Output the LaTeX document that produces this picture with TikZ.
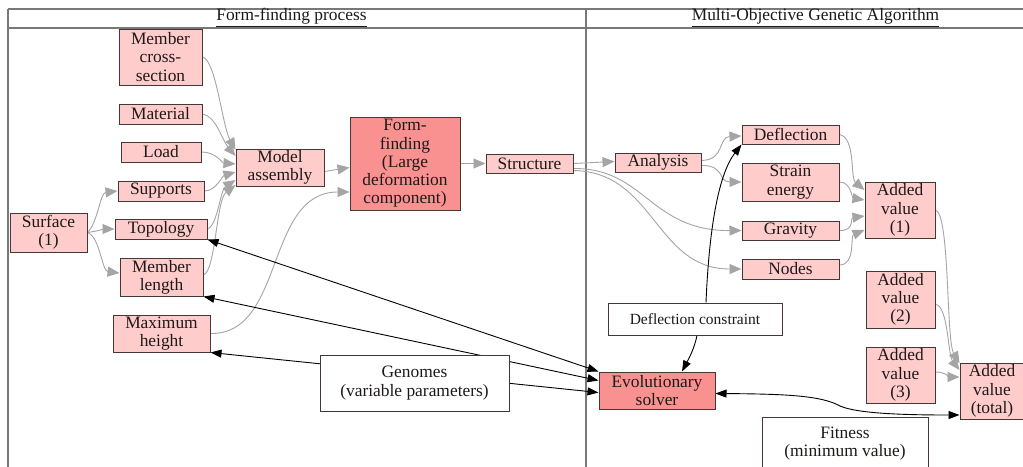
\documentclass[tikz,border=0pt]{standalone}
\usepackage{fontspec}
\setmainfont{Liberation Serif}
\usetikzlibrary{arrows.meta,backgrounds}
\definecolor{pinkfill}{RGB}{255,204,204}
\definecolor{redfill}{RGB}{250,145,145}
\definecolor{boxline}{RGB}{70,55,55}
\definecolor{arrgray}{RGB}{165,165,165}
\definecolor{framegray}{RGB}{120,120,120}
\definecolor{txt}{RGB}{30,25,25}
\tikzset{
 pbox/.style={draw=boxline, line width=1pt, fill=pinkfill, inner sep=0pt, align=center, text=txt, font=\fontsize{17.4}{18.3}\selectfont},
 rbox/.style={pbox, fill=redfill},
 wbox/.style={pbox, fill=white},
 hdr/.style={inner sep=0pt, text=txt, font=\fontsize{17.4}{18.3}\selectfont},
 garr/.style={draw=arrgray, line width=0.9pt, -{Triangle[length=12pt,width=10pt]}},
 barr/.style={draw=black, line width=0.9pt, {Triangle[length=11pt,width=8pt]}-{Triangle[length=11pt,width=8pt]}},
 bsingle/.style={draw=black, line width=0.9pt, -{Triangle[length=11pt,width=8pt]}},
 framel/.style={draw=framegray, line width=1.5pt},
}
\begin{document}
\begin{tikzpicture}[x=1pt,y=-1pt]
\useasboundingbox (0,0) rectangle (1023,466);
\clip (0,0) rectangle (1023,466);

% headers
\node[hdr] (h1) at (291.5,17.5) {\underline{Form-finding process}};
\node[hdr] (h2) at (815.5,17.5) {\underline{Multi-Objective Genetic Algorithm}};

% left side nodes
\node[pbox, minimum width=83pt, minimum height=56pt] (mcs) at (160.5,57) {Member\\cross-\\section};
\node[pbox, minimum width=83pt, minimum height=20pt] (mat) at (160.5,114) {Material};
\node[pbox, minimum width=80pt, minimum height=20pt] (load) at (161,152) {Load};
\node[pbox, minimum width=86pt, minimum height=20pt] (sup) at (161,191) {Supports};
\node[pbox, minimum width=92pt, minimum height=20pt] (topo) at (161,229) {Topology};
\node[pbox, minimum width=77pt, minimum height=39pt] (surf) at (48.5,232.5) {Surface\\(1)};
\node[pbox, minimum width=83pt, minimum height=38pt] (mlen) at (161.5,277) {Member\\length};
\node[pbox, minimum width=97pt, minimum height=37pt] (mh) at (161.5,333.5) {Maximum\\height};
\node[pbox, minimum width=88pt, minimum height=37pt] (ma) at (280,167.5) {Model\\assembly};
\node[rbox, minimum width=110pt, minimum height=93pt] (ff) at (405,163.5) {Form-\\finding\\(Large\\deformation\\component)};
\node[pbox, minimum width=87pt, minimum height=19pt] (st) at (529.5,163.5) {Structure};
\node[wbox, minimum width=189pt, minimum height=56pt] (gen) at (414.5,383) {Genomes\\(variable parameters)};

% right side nodes
\node[pbox, minimum width=86pt, minimum height=19pt] (an) at (658,162.5) {Analysis};
\node[pbox, minimum width=97pt, minimum height=19pt] (defl) at (790.5,134.5) {Deflection};
\node[pbox, minimum width=97pt, minimum height=38pt] (se) at (790.5,182) {Strain\\energy};
\node[pbox, minimum width=97pt, minimum height=19pt] (grav) at (790.5,230.5) {Gravity};
\node[pbox, minimum width=97pt, minimum height=20pt] (nodes) at (790.5,269) {Nodes};
\node[pbox, minimum width=70pt, minimum height=56pt] (av1) at (900,210) {Added\\value\\(1)};
\node[pbox, minimum width=69pt, minimum height=57pt] (av2) at (900.5,299.5) {Added\\value\\(2)};
\node[pbox, minimum width=69pt, minimum height=56pt] (av3) at (900.5,375) {Added\\value\\(3)};
\node[pbox, minimum width=64pt, minimum height=56pt] (avt) at (992,391) {Added\\value\\(total)};
\node[wbox, minimum width=174pt, minimum height=32pt, font=\fontsize{15.5}{17}\selectfont] (dc) at (695,319) {Deflection constraint};
\node[rbox, minimum width=116pt, minimum height=37pt] (es) at (657,390.5) {Evolutionary\\solver};
\node[wbox, minimum width=166pt, minimum height=53pt] (fit) at (845,443.5) {Fitness\\(minimum value)};

\begin{pgfonlayer}{background}
\fill[white] (0,0) rectangle (1023,466);
% frame
\draw[framel] (8,9) -- (1025,9);
\draw[framel] (8,28) -- (1025,28);
\draw[framel] (8,9) -- (8,470);
\draw[framel] (586,9) -- (586,470);

% gray edges, left
\draw[garr] (mcs.east) .. controls (216,60) and (222,125) .. ([yshift=17.5pt]ma.west);
\draw[garr] (mat.east) .. controls (216,116) and (222,140) .. ([yshift=11.5pt]ma.west);
\draw[garr] (load.east) .. controls (216,152) and (222,163) .. ([yshift=3.5pt]ma.west);
\draw[garr] (sup.east) .. controls (216,191) and (222,176) .. ([yshift=-4.5pt]ma.west);
\draw[garr] (topo.east) .. controls (218,225) and (220,190) .. ([yshift=-12.5pt]ma.west);
\draw[garr] ([yshift=2pt]mlen.east) .. controls (216,270) and (216,200) .. ([yshift=-17.5pt]ma.west);
\draw[garr] (mh.east) .. controls (285,335) and (265,192) .. ([yshift=-28.5pt]ff.west);
\draw[garr] ([yshift=-4pt]ma.east) -- ([yshift=-4pt]ff.west);
\draw[garr] (ff.east) -- (st.west);
\draw[garr] (surf.east) .. controls (98,222) and (100,193) .. (sup.west);
\draw[garr] (surf.east) .. controls (98,231) and (105,229) .. (topo.west);
\draw[garr] (surf.east) .. controls (100,237) and (102,271) .. ([yshift=4pt]mlen.west);

% gray edges, right
\draw[garr] (st.east) -- ([yshift=1pt]an.west);
\draw[garr] ([yshift=-5pt]st.east) .. controls (645,168) and (650,231) .. (grav.west);
\draw[garr] ([yshift=-7pt]st.east) .. controls (655,172) and (655,269) .. (nodes.west);
\draw[garr] ([yshift=2pt]an.east) .. controls (725,160) and (718,137) .. ([yshift=-1.5pt]defl.west);
\draw[garr] ([yshift=-3pt]an.east) .. controls (725,165) and (718,182) .. (se.west);
\draw[garr] (defl.east) .. controls (856,138) and (850,178) .. ([yshift=20pt]av1.west);
\draw[garr] (se.east) .. controls (851,182) and (852,198) .. ([yshift=10pt]av1.west);
\draw[garr] (grav.east) .. controls (855,231) and (850,218) .. ([yshift=-6pt]av1.west);
\draw[garr] ([yshift=4pt]nodes.east) .. controls (856,265) and (850,236) .. ([yshift=-20pt]av1.west);
\draw[garr] (av1.east) .. controls (950,214) and (946,340) .. ([yshift=-1pt]avt.north west);
\draw[garr] ([yshift=-5pt]av2.east) .. controls (948,305) and (948,355) .. ([yshift=21pt]avt.west);
\draw[garr] ([yshift=3pt]av3.east) .. controls (945,372) and (950,377) .. ([yshift=14pt]avt.west);

% black edges
\draw[barr] (topo.south east) -- (es.north west);
\draw[barr] (mlen.south east) -- ([yshift=10pt]es.west);
\draw[barr] (mh.south east) -- ([yshift=-2pt]es.west);
\draw[bsingle] ([xshift=11pt]dc.north) .. controls (708,255) and (714,180) .. (defl.south west);
\draw[bsingle] ([xshift=2pt]dc.south) .. controls (694,350) and (688,360) .. ([xshift=25pt]es.north);
\draw[barr] ([yshift=-3pt]es.east) .. controls (790,394) and (822,396) .. (840,406) .. controls (858,414) and (910,415) .. ([yshift=-24pt]avt.west);
\end{pgfonlayer}
\end{tikzpicture}
\end{document}
